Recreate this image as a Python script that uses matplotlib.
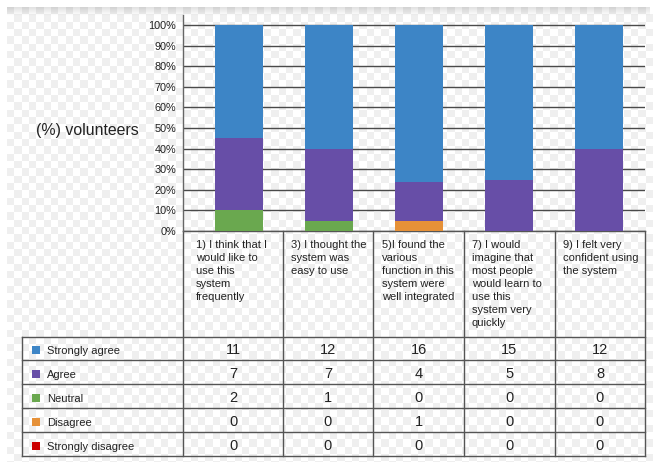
import numpy as np
import matplotlib
matplotlib.use("Agg")
import matplotlib.pyplot as plt
from matplotlib.patches import Rectangle

plt.rcParams['font.family'] = ['Liberation Sans', 'DejaVu Sans']

# ---------------- data ----------------
questions = [
    "1) I think that I\nwould like to\nuse this\nsystem\nfrequently",
    "3) I thought the\nsystem was\neasy to use",
    "5)I found the\nvarious\nfunction in this\nsystem were\nwell integrated",
    "7) I would\nimagine that\nmost people\nwould learn to\nuse this\nsystem very\nquickly",
    "9) I felt very\nconfident using\nthe system",
]
responses = ["Strongly agree", "Agree", "Neutral", "Disagree", "Strongly disagree"]
strongly_agree = [11, 12, 16, 15, 12]
agree = [7, 7, 4, 5, 8]
neutral = [2, 1, 0, 0, 0]
disagree = [0, 0, 1, 0, 0]
strongly_disagree = [0, 0, 0, 0, 0]
colors = ["#3d85c6", "#674ea7", "#6aa84f", "#e69138", "#cc0000"]
ytick_labels = ["0%", "10%", "20%", "30%", "40%", "50%", "60%", "70%", "80%", "90%", "100%"]

counts = np.array([strongly_agree, agree, neutral, disagree, strongly_disagree], dtype=float)
totals = counts.sum(axis=0)
pct = counts / totals * 100

W, H = 653, 462
fig = plt.figure(figsize=(W / 100, H / 100), dpi=100)

# ---------- background (pixel-coordinate overlay) ----------
bg = fig.add_axes([0, 0, 1, 1], zorder=0)
bg.set_xlim(0, W)
bg.set_ylim(H, 0)
bg.axis('off')
cell = 7.33
nx = int(np.ceil((650 - 7) / cell))
ny = int(np.ceil((H - 7) / cell))
ii, jj = np.indices((ny, nx))
checker = np.where((ii + jj) % 2 == 0, 0.935, 1.0)
bg.imshow(checker, cmap='gray', vmin=0, vmax=1, interpolation='nearest',
          extent=(7, 7 + nx * cell, 7 + ny * cell, 7), aspect='auto', zorder=0)
grad = np.zeros((20, 2, 4))
grad[..., 3] = np.linspace(0.12, 0.0, 20)[:, None]
bg.imshow(grad, extent=(7, 650, 16, 7), aspect='auto', zorder=0.5, interpolation='bilinear')
bg.set_xlim(0, W)
bg.set_ylim(H, 0)

# ---------- table ----------
col_edges = [183, 283, 373, 464, 555, 645]
row_edges = [337, 360, 384, 408, 432, 456]
header_top = 231
left_edge = 22
lc = '#555555'
lw = 1.0
bg.plot([col_edges[0], col_edges[-1]], [header_top, header_top], color=lc, lw=lw, zorder=3)
for y in row_edges:
    bg.plot([left_edge, col_edges[-1]], [y, y], color=lc, lw=lw, zorder=3)
for x in col_edges:
    bg.plot([x, x], [header_top, row_edges[-1]], color=lc, lw=lw, zorder=3)
bg.plot([left_edge, left_edge], [row_edges[0], row_edges[-1]], color=lc, lw=lw, zorder=3)

header_x = [196, 291, 382, 472, 563]
for q, hx in zip(questions, header_x):
    for k, line in enumerate(q.split("\n")):
        bg.text(hx, 248 + 13 * k, line, fontsize=8, color='#222222',
                ha='left', va='baseline', zorder=4)

for r, (name, c) in enumerate(zip(responses, colors)):
    yc = (row_edges[r] + row_edges[r + 1]) / 2
    bg.add_patch(Rectangle((32, yc + 1.5 - 4), 8, 8, facecolor=c, edgecolor='none', zorder=4))
    bg.text(47, yc + 5.5, name, fontsize=8, color='#222222', ha='left', va='baseline', zorder=4)
    for j in range(len(questions)):
        xc = (col_edges[j] + col_edges[j + 1]) / 2
        bg.text(xc, yc + 5.5, f"{int(counts[r, j])}", fontsize=10.5, color='#222222',
                ha='center', va='baseline', zorder=4)

# ---------- main chart ----------
ax = fig.add_axes([183 / W, 1 - 231 / H, (645 - 183) / W, (231 - 15) / H], zorder=2)
ax.patch.set_alpha(0)
x = np.arange(len(questions))
order = [4, 3, 2, 1, 0]  # bottom to top: strongly disagree ... strongly agree
bottom = np.zeros(len(questions))
for idx in order:
    ax.bar(x, pct[idx], width=0.53, bottom=bottom, color=colors[idx],
           edgecolor='none', zorder=3)
    bottom += pct[idx]

ax.set_xlim(-0.622, 4.51)
ax.set_ylim(0, 100 * 216 / 206)
ax.set_yticks(np.arange(0, 101, 10))
ax.set_yticklabels(ytick_labels)
ax.set_xticks([])
ax.tick_params(axis='y', length=0, pad=5, labelsize=7.8, labelcolor='#222222')
ax.yaxis.grid(True, color='#4a4a4a', lw=1.0, zorder=1)
ax.set_axisbelow(True)
for s in ['top', 'right', 'bottom']:
    ax.spines[s].set_visible(False)
ax.spines['left'].set_color('#666666')
ax.spines['left'].set_linewidth(1.0)

fig.text(87 / W, 1 - 130 / H, "(%) volunteers", fontsize=11.4, color='#222222',
         ha='center', va='center')

fig.savefig("out.png", dpi=100)
